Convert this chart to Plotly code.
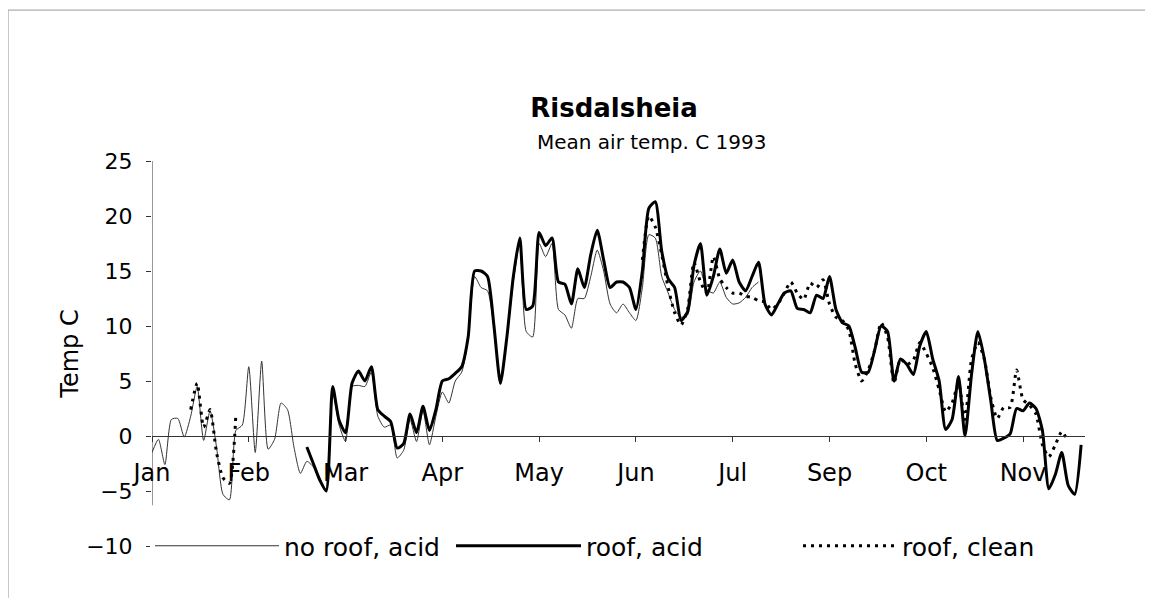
import plotly.graph_objects as go

# day index along the category axis (15 points per labelled month)
day = list(range(145))
month_labels = ["Jan", "Feb", "Mar", "Apr", "May", "Jun", "Jul", "Sep", "Oct", "Nov"]
month_pos = [0, 15, 30, 45, 60, 75, 90, 105, 120, 135]

no_roof_acid = [
    -1.5, -0.3, -2.6, 1.5, 1.6, -0.1, 1.8, 4.5, -0.4, 2.3,
    -1.0, -5.3, -5.8, 0.5, 1.0, 6.3, -1.5, 6.8, -1.2, -0.3,
    3.0, 2.4, -1.0, -3.4, -2.3, -2.8, -3.8, -5.0, 4.0, 1.0,
    -0.5, 4.5, 4.6, 4.5, 5.8, 1.8, 0.8, 1.0, -2.0, -1.3,
    1.5, -0.5, 2.3, -0.8, 1.8, 4.0, 3.0, 5.0, 5.8, 8.8,
    14.5, 13.5, 13.2, 9.8, 4.7, 8.8, 14.0, 17.5, 9.5, 9.0,
    17.5, 16.3, 17.5, 11.5, 11.0, 9.8, 12.5, 12.5, 14.5, 16.9,
    15.0, 12.0, 11.2, 12.0, 11.2, 10.5, 13.5, 18.3, 18.0, 14.5,
    13.0, 11.5, 10.8, 11.0, 14.0, 15.0, 13.3, 13.0, 14.0, 12.6,
    12.0, 12.1, 12.6, 13.5, 14.0,
] + [None] * 50

roof_acid = [None] * 24 + [
    -1.0, -2.5, -4.0, -5.0, 4.5, 1.4,
    0.3, 4.8, 5.9, 5.0, 6.3, 2.4, 1.8, 1.3, -1.1, -0.7,
    2.0, 0.3, 2.7, 0.5, 2.4, 5.0, 5.2, 5.7, 6.3, 9.0,
    15.0, 15.0, 14.5, 10.0, 4.8, 9.0, 14.5, 18.0, 11.5, 11.8,
    18.5, 17.3, 18.0, 14.0, 13.8, 12.0, 15.2, 13.5, 16.5, 18.7,
    16.0, 13.5, 14.0, 14.0, 13.5, 11.5, 15.0, 20.7, 21.3, 16.8,
    14.3, 13.5, 10.5, 11.3, 15.5, 17.5, 12.8, 14.5, 17.0, 14.8,
    16.0, 14.0, 13.2, 14.5, 15.8, 12.0, 11.0, 12.0, 13.0, 13.2,
    11.6, 11.5, 11.2, 12.8, 12.5, 14.5, 11.5, 10.3, 10.0, 8.0,
    5.8, 5.8, 7.8, 10.0, 9.5, 5.0, 7.0, 6.5, 5.6, 8.2,
    9.5, 7.0, 5.0, 0.6, 1.5, 5.4, 0.0, 5.5, 9.5, 7.0,
    3.2, -0.4, -0.2, 0.2, 2.5, 2.3, 3.0, 2.5, 0.5, -4.8,
    -3.5, -1.5, -4.5, -5.3, -0.8,
]

roof_clean = [None] * 6 + [
    2.4, 4.8, 0.8, 2.4, -1.5, -3.8, -4.3, 2.0,
] + [None] * 62 + [
    16.0, 20.0, 19.0, 16.5, 13.5, 11.2, 10.1, 11.5, 15.8, 14.0,
    13.0, 16.3, 14.3, 13.5, 13.0, 13.0, 12.7, 12.6, 12.3, 12.2,
    11.5, 12.0, 13.0, 14.0, 13.0, 12.4, 13.9, 13.5, 14.2, 12.0,
    10.8, 10.5, 9.6, 6.5, 5.0, 6.0, 7.8, 10.3, 9.0, 4.8,
    7.0, 6.5, 6.9, 8.5, 7.5, 6.2, 4.2, 2.2, 3.0, 4.8,
    1.5, 6.9, 8.5, 7.0, 3.5, 1.6, 2.6, 2.6, 6.0, 3.3,
    2.8, 2.0, -0.8, -1.9, -0.8, 0.4, -0.5,
] + [None] * 2

FONT = "DejaVu Sans, sans-serif"

fig = go.Figure()
fig.add_trace(go.Scatter(
    x=day, y=no_roof_acid, name="no roof, acid", mode="lines",
    line=dict(color="#333333", width=1, shape="spline", smoothing=0.6),
    legend="legend",
))
fig.add_trace(go.Scatter(
    x=day, y=roof_acid, name="roof, acid", mode="lines",
    line=dict(color="black", width=3, shape="spline", smoothing=0.6),
    legend="legend2",
))
fig.add_trace(go.Scatter(
    x=day, y=roof_clean, name="roof, clean", mode="lines",
    line=dict(color="black", width=3, dash="3px,5px", shape="spline", smoothing=0.6),
    legend="legend3",
))

leg = dict(orientation="h", yanchor="middle", y=0, xanchor="left",
           bgcolor="white", font=dict(size=25, color="black"))

fig.update_layout(
    width=1153, height=598, autosize=False,
    paper_bgcolor="white", plot_bgcolor="white",
    margin=dict(l=144, r=76, t=153, b=60),
    font=dict(family=FONT, color="black"),
    title=dict(text="<b>Risdalsheia</b>", x=(614 - 8) / 1153, xanchor="center",
               y=1 - (108 - 8) / 598, yanchor="middle", font=dict(size=26)),
    showlegend=True,
    legend=dict(leg, x=(150 - 152) / 933, itemwidth=124),
    legend2=dict(leg, x=(451 - 152) / 933, itemwidth=125),
    legend3=dict(leg, x=(798 - 152) / 933, itemwidth=94),
    xaxis=dict(
        range=[0, 144.6], anchor="free", position=10 / 35,
        tickvals=month_pos, ticktext=month_labels,
        showline=True, linecolor="#333333", linewidth=1,
        ticks="outside", ticklen=5, tickcolor="#333333",
        showgrid=False, zeroline=False, tickfont=dict(size=24),
        ticklabelstandoff=10,
    ),
    yaxis=dict(
        range=[-10, 25], tickvals=[25, 20, 15, 10, 5, 0, -5, -10],
        showline=False, ticks="outside", ticklen=5, tickcolor="#333333",
        showgrid=False, zeroline=False, tickfont=dict(size=22),
        ticklabelstandoff=9,
        title=dict(text="Temp C", font=dict(size=24), standoff=0),
    ),
    shapes=[
        dict(type="line", xref="x", yref="y", x0=0, x1=0, y0=-6.3, y1=25,
             line=dict(color="#333333", width=1)),
        dict(type="line", xref="paper", yref="paper", x0=-0.1543, x1=-0.1543,
             y0=1.392, y1=-0.2, line=dict(color="#999999", width=1)),
        dict(type="line", xref="paper", yref="paper", x0=-0.1543, x1=1.2,
             y0=1.392, y1=1.392, line=dict(color="#999999", width=1)),
    ],
    annotations=[
        dict(text="Mean air temp. C 1993", xref="paper", yref="paper",
             x=(652 - 152) / 933, y=(546 - 142) / 385, xanchor="center",
             yanchor="middle", showarrow=False, font=dict(size=20)),
    ],
)

fig.write_html("out.html")
